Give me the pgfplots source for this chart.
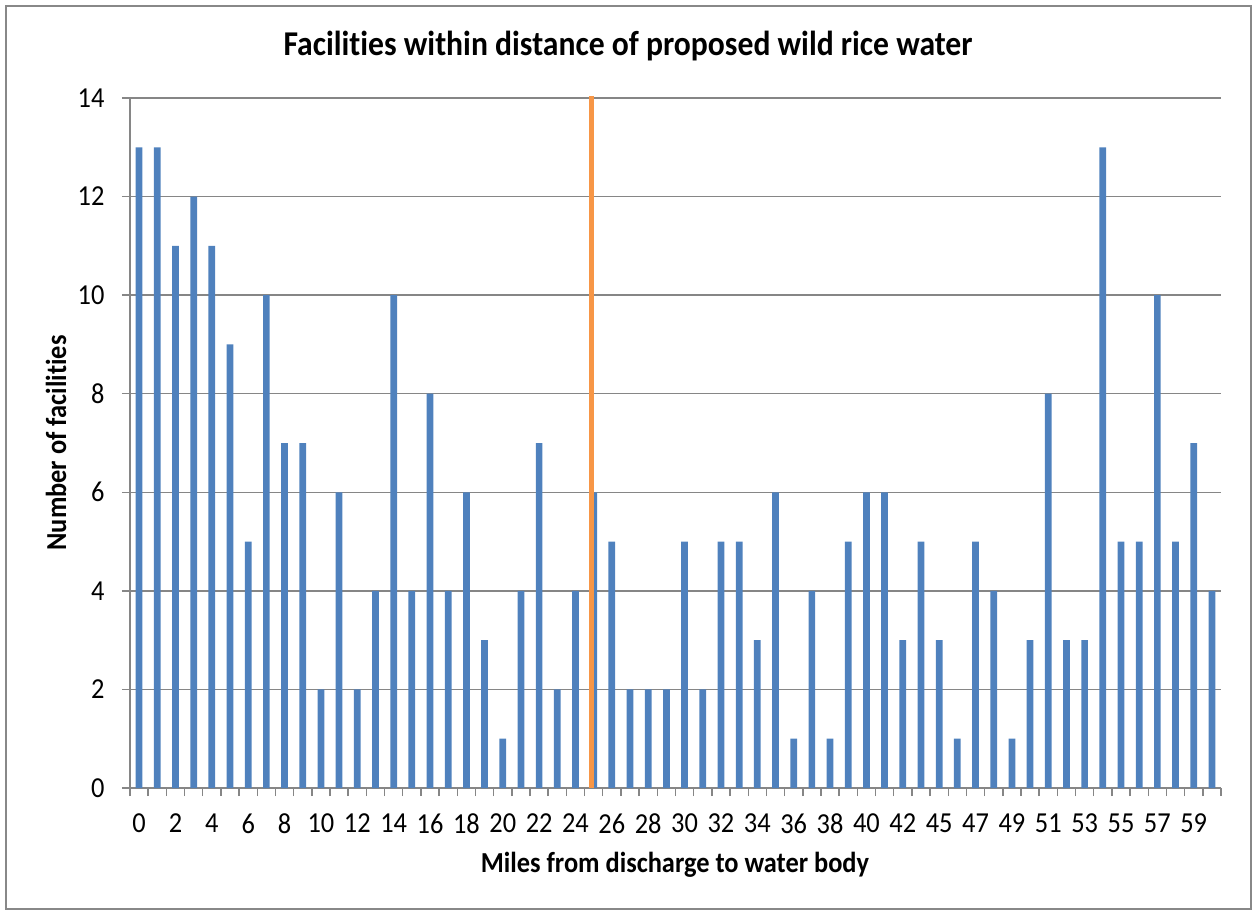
\documentclass[border=0pt]{standalone}
\usepackage{fontspec}
\setmainfont{Carlito}[Ligatures=NoCommon, FakeStretch=0.91]
\usepackage{pgfplots}
\usepackage{pgfplotstable}
\pgfplotsset{compat=1.18}
\definecolor{barblue}{HTML}{4F81BD}
\definecolor{lineorange}{HTML}{F79646}
\definecolor{gridgray}{HTML}{868686}
\definecolor{framegray}{HTML}{888888}
\pgfplotstableread{
idx val
0 13
1 13
2 11
3 12
4 11
5 9
6 5
7 10
8 7
9 7
10 2
11 6
12 2
13 4
14 10
15 4
16 8
17 4
18 6
19 3
20 1
21 4
22 7
23 2
24 4
25 6
26 5
27 2
28 2
29 2
30 5
31 2
32 5
33 5
34 3
35 6
36 1
37 4
38 1
39 5
40 6
41 6
42 3
43 5
44 3
45 1
46 5
47 4
48 1
49 3
50 8
51 3
52 3
53 13
54 5
55 5
56 10
57 5
58 7
59 4
}\facilities
\begin{document}
\begin{tikzpicture}
\begin{scope}[x=0.345pt,y=-0.345pt]
\useasboundingbox (0,0) rectangle (1256,911);
\draw[framegray, line width=0.7pt] (6,6) rectangle (1251,909);
\node[anchor=base, inner sep=0pt, font=\fontsize{12}{14}\selectfont\bfseries] at (628,56) {Facilities within distance of proposed wild rice water};
\node[anchor=base, inner sep=0pt, font=\bfseries] at (675,872) {Miles from discharge to water body};
\node[anchor=base, inner sep=0pt, rotate=90, font=\bfseries] at (66,443) {Number of facilities};
\end{scope}
\begin{axis}[
  at={(44.85pt,-271.86pt)}, anchor=south west,
  scale only axis, width=376.4pt, height=238.05pt,
  xmin=-0.5, xmax=59.5, ymin=0, ymax=14,
  clip=false,
  axis x line*=bottom, axis y line*=left,
  axis line style={gridgray, line width=0.5pt},
  ymajorgrids=true,
  major grid style={gridgray, line width=0.5pt},
  tick align=outside,
  tick style={gridgray, line width=0.5pt},
  major tick length=2.8pt,
  ytick={0,2,...,14},
  xtick={-0.5,0.5,...,59.5},
  xticklabels={},
  extra x ticks={0,2,...,58},
  extra x tick labels={0,2,4,6,8,10,12,14,16,18,20,22,24,26,28,30,32,34,36,38,40,42,45,47,49,51,53,55,57,59},
  extra x tick style={major tick length=0pt},
  /pgf/number format/assume math mode=true,
  tick label style={font=\fontsize{10}{12}\selectfont},
  yticklabel style={xshift=-2.5pt},
  xticklabel style={yshift=-5.3pt},
]
\addplot[ybar, bar width=0.37, fill=barblue, draw=none] table[x=idx, y=val] {\facilities};
\addplot[lineorange, line width=1.4pt] coordinates {(24.88,0) (24.88,14.05)};
\end{axis}
\end{tikzpicture}
\end{document}
